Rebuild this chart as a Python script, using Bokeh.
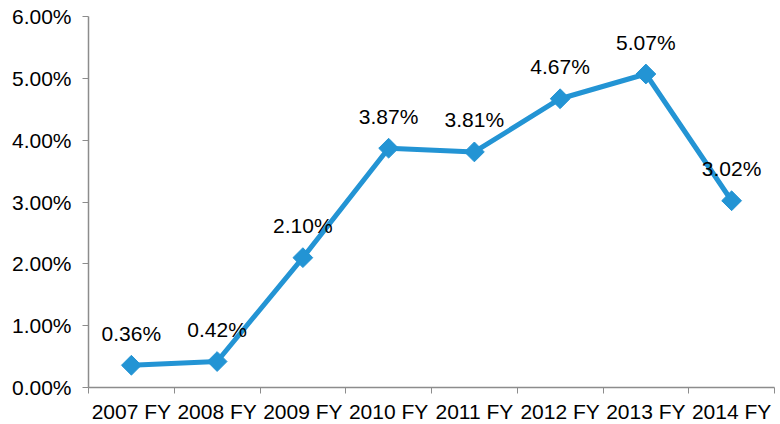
from bokeh.plotting import figure
from bokeh.models import (Range1d, FixedTicker, SingleIntervalTicker, NumeralTickFormatter,
                          CustomJSTickFormatter, ColumnDataSource)
from bokeh.core.properties import value
from bokeh.embed import file_html
from bokeh.resources import INLINE
import math

categories = ["2007 FY", "2008 FY", "2009 FY", "2010 FY", "2011 FY", "2012 FY", "2013 FY", "2014 FY"]
rates = [0.0036, 0.0042, 0.0210, 0.0387, 0.0381, 0.0467, 0.0507, 0.0302]
rate_labels = ["0.36%", "0.42%", "2.10%", "3.87%", "3.81%", "4.67%", "5.07%", "3.02%"]

FONT = "Liberation Sans"
BLUE = "#2394D4"
GREY = "#8C8C8C"

n = len(categories)
xs = [i + 0.5 for i in range(n)]
src = ColumnDataSource(dict(x=xs, y=rates, lab=rate_labels))

p = figure(frame_width=686, frame_height=371, output_backend="svg", toolbar_location=None,
           x_range=Range1d(0, n), y_range=Range1d(0, 0.06),
           min_border_left=88, min_border_top=16, min_border_right=4, min_border_bottom=0)
p.outline_line_color = None
p.xgrid.visible = False
p.ygrid.visible = False
p.background_fill_color = "white"
p.border_fill_color = "white"

p.line("x", "y", source=src, line_color=BLUE, line_width=5, line_join="round")
p.scatter("x", "y", source=src, marker="square", size=14, angle=math.pi / 4,
          fill_color=BLUE, line_color=BLUE)
p.text("x", "y", text="lab", source=src, text_align="center", text_baseline="middle",
       y_offset=-32, text_font=value(FONT), text_font_size="21px", text_color="black")

# x axis
xa = p.xaxis[0]
xa.ticker = FixedTicker(ticks=xs, minor_ticks=list(range(n + 1)))
xa.formatter = CustomJSTickFormatter(args=dict(labels=categories),
                                     code="return labels[Math.floor(tick)];")
xa.major_tick_line_color = None
xa.major_tick_out = 6
xa.minor_tick_line_color = GREY
xa.minor_tick_out = 6
xa.minor_tick_in = 0
xa.axis_line_color = GREY
xa.axis_line_width = 1.5
xa.major_label_text_font = FONT
xa.major_label_text_font_size = "21px"
xa.major_label_text_color = "black"
xa.major_label_standoff = 6

# y axis
ya = p.yaxis[0]
ya.ticker = SingleIntervalTicker(interval=0.01, num_minor_ticks=0)
ya.formatter = NumeralTickFormatter(format="0.00%")
ya.major_tick_line_color = GREY
ya.major_tick_out = 6
ya.major_tick_in = 0
ya.minor_tick_line_color = None
ya.axis_line_color = GREY
ya.axis_line_width = 1.5
ya.major_label_text_font = FONT
ya.major_label_text_font_size = "21px"
ya.major_label_text_color = "black"
ya.major_label_standoff = 11

open("out.html", "w").write(file_html(p, INLINE))
